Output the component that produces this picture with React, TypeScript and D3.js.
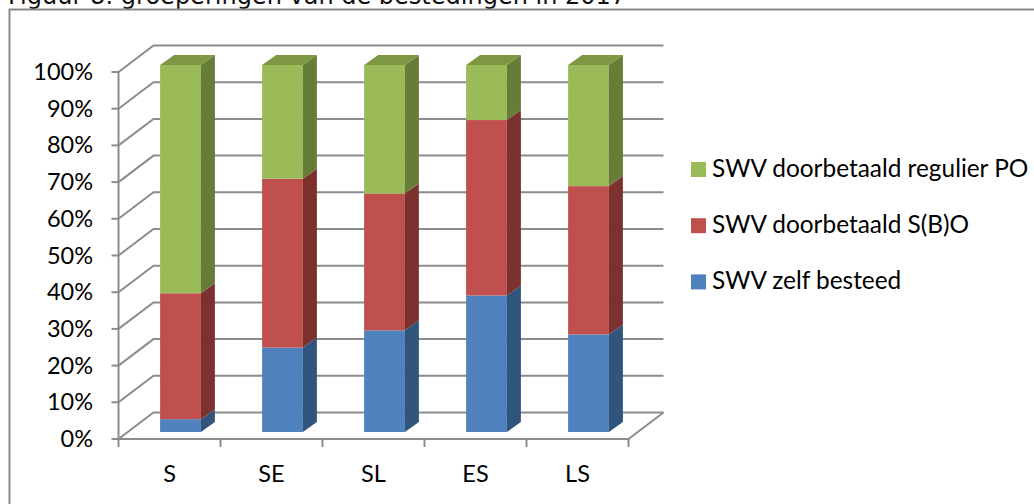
import * as d3 from "d3";

const categories = ["S", "SE", "SL", "ES", "LS"];
const zelfBesteed = [3.5, 23, 27.7, 37.2, 26.6];
const doorbetaaldSbo = [34.3, 46, 37.3, 47.8, 40.4];
const doorbetaaldRegulier = [62.2, 31, 35, 15, 33];
const yTicks = [0, 10, 20, 30, 40, 50, 60, 70, 80, 90, 100];

const seriesKeys = ["zelf", "sbo", "regulier"];
const legendLabels = ["SWV doorbetaald regulier PO", "SWV doorbetaald S(B)O", "SWV zelf besteed"];
const legendKeys = ["regulier", "sbo", "zelf"];

const colors = {
  zelf: { front: "#4f81bd", side: "#31547c", top: "#416a9c" },
  sbo: { front: "#c0504d", side: "#7d312f", top: "#9e4240" },
  regulier: { front: "#9bbb59", side: "#677c36", top: "#7d9743" },
};

const WIDTH = 1034;
const HEIGHT = 504;
const FONT = "Lato, Carlito, sans-serif";
const GRID = "#8c8c8c";

// 3d offsets: the back wall, and the bars which stand inside the floor
const wallDx = 35;
const wallDy = 26.5;
const barDx = 11;
const barDy = 7;
const depthDx = 14;
const depthDy = 10;

const x = d3.scaleBand().domain(categories).range([118.5, 628.5]);
const y = d3.scaleLinear().domain([0, 100]).range([439, 72]);

const rows = categories.map((c, i) => ({
  category: c,
  zelf: zelfBesteed[i],
  sbo: doorbetaaldSbo[i],
  regulier: doorbetaaldRegulier[i],
}));
const stacked = d3.stack().keys(seriesKeys)(rows as any);

const tickEdges = [...categories.map((c) => x(c) as number), x.range()[1]];
const barWidth = x.bandwidth() * 0.4;

const poly = (pts: number[][]) => d3.line()(pts as [number, number][]) + "Z";

export default function App() {
  return (
    <svg
      width={WIDTH}
      height={HEIGHT}
      style={{ position: "absolute", left: 0, top: 0, background: "#fff" }}
    >
      <text x={8} y={4} fontFamily="'DejaVu Sans'" fontSize={24} fill="#111">
        Figuur 8: groeperingen van de bestedingen in 2017
      </text>
      <path d={`M9.5,${HEIGHT}V9.5H${WIDTH}`} fill="none" stroke="#8a8a8a" strokeWidth={2} />

      {/* back wall gridlines and the floor */}
      {yTicks.map((t) => (
        <g key={t} fill="none" stroke={GRID} strokeWidth={2}>
          <path
            d={`M${x.range()[0]},${y(t)}L${x.range()[0] + wallDx},${y(t) - wallDy}H${x.range()[1] + wallDx}`}
          />
          <path d={`M${x.range()[0] - 7},${y(t)}H${x.range()[0]}`} />
        </g>
      ))}
      <path
        d={`M${x.range()[0]},${y(100)}V${y(0)}H${x.range()[1]}L${x.range()[1] + wallDx},${y(0) - wallDy}`}
        fill="none"
        stroke={GRID}
        strokeWidth={2}
      />
      {tickEdges.map((t) => (
        <path key={t} d={`M${t},${y(0)}v8`} stroke={GRID} strokeWidth={2} />
      ))}

      {/* stacked bars */}
      {categories.map((c, i) => {
        const x0 = (x(c) as number) + (x.bandwidth() - barWidth) / 2 + barDx;
        const x1 = x0 + barWidth;
        return (
          <g key={c}>
            {stacked.map((s) => {
              const col = colors[s.key as keyof typeof colors];
              const yb = y(s[i][0]) - barDy;
              const yt = y(s[i][1]) - barDy;
              return (
                <g key={s.key}>
                  <rect x={x0} y={yt} width={barWidth} height={yb - yt} fill={col.front} />
                  <path
                    d={poly([
                      [x1, yt],
                      [x1 + depthDx, yt - depthDy],
                      [x1 + depthDx, yb - depthDy],
                      [x1, yb],
                    ])}
                    fill={col.side}
                  />
                  {s.key === "regulier" && (
                    <path
                      d={poly([
                        [x0, yt],
                        [x0 + depthDx, yt - depthDy],
                        [x1 + depthDx, yt - depthDy],
                        [x1, yt],
                      ])}
                      fill={col.top}
                    />
                  )}
                </g>
              );
            })}
          </g>
        );
      })}

      {/* tick labels */}
      {yTicks.map((t) => (
        <text
          key={t}
          x={93}
          y={y(t) + 8}
          textAnchor="end"
          fontFamily={FONT}
          fontSize={23.5}
          fill="#000"
        >
          {t}%
        </text>
      ))}
      {categories.map((c) => (
        <text
          key={c}
          x={(x(c) as number) + x.bandwidth() / 2}
          y={482}
          textAnchor="middle"
          fontFamily={FONT}
          fontSize={23.5}
          fill="#000"
        >
          {c}
        </text>
      ))}

      {/* legend */}
      {legendKeys.map((k, i) => (
        <g key={k}>
          <rect
            x={691}
            y={162 + i * 56.2}
            width={15}
            height={15}
            fill={colors[k as keyof typeof colors].front}
          />
          <text x={712} y={177 + i * 56.2} fontFamily={FONT} fontSize={24.4} fill="#000">
            {legendLabels[i]}
          </text>
        </g>
      ))}
    </svg>
  );
}
